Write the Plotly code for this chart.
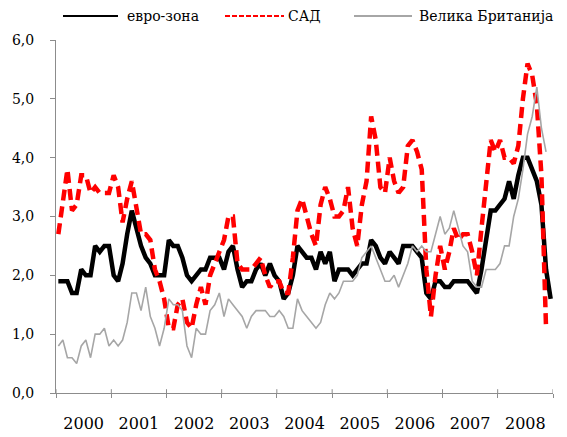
import pandas as pd
import plotly.graph_objects as go

# ---------------- data ----------------
years = [2000, 2001, 2002, 2003, 2004, 2005, 2006, 2007, 2008]

euro_area = [
    1.9, 1.9, 1.9, 1.7, 1.7, 2.1, 2.0, 2.0, 2.5, 2.4, 2.5, 2.5,   # 2000
    2.0, 1.9, 2.2, 2.7, 3.1, 2.8, 2.5, 2.3, 2.2, 2.0, 2.0, 2.0,   # 2001
    2.6, 2.5, 2.5, 2.3, 2.0, 1.9, 2.0, 2.1, 2.1, 2.3, 2.3, 2.3,   # 2002
    2.1, 2.4, 2.5, 2.1, 1.8, 1.9, 1.9, 2.1, 2.2, 2.0, 2.2, 2.0,   # 2003
    1.9, 1.6, 1.7, 2.0, 2.5, 2.4, 2.3, 2.3, 2.1, 2.4, 2.2, 2.4,   # 2004
    1.9, 2.1, 2.1, 2.1, 2.0, 2.1, 2.2, 2.2, 2.6, 2.5, 2.3, 2.2,   # 2005
    2.4, 2.3, 2.2, 2.5, 2.5, 2.5, 2.4, 2.3, 1.7, 1.6, 1.9, 1.9,   # 2006
    1.8, 1.8, 1.9, 1.9, 1.9, 1.9, 1.8, 1.7, 2.1, 2.6, 3.1, 3.1,   # 2007
    3.2, 3.3, 3.6, 3.3, 3.7, 4.0, 4.0, 3.8, 3.6, 3.2, 2.1, 1.6,   # 2008
]

usa = [
    2.7, 3.2, 3.8, 3.1, 3.2, 3.7, 3.7, 3.4, 3.5, 3.4, 3.4, 3.4,   # 2000
    3.7, 3.5, 2.9, 3.3, 3.6, 3.2, 2.7, 2.7, 2.6, 2.1, 1.9, 1.6,   # 2001
    1.1, 1.1, 1.5, 1.6, 1.2, 1.1, 1.5, 1.8, 1.5, 2.0, 2.2, 2.4,   # 2002
    2.6, 3.0, 3.0, 2.2, 2.1, 2.1, 2.1, 2.2, 2.3, 2.0, 1.8, 1.9,   # 2003
    1.9, 1.7, 1.7, 2.3, 3.1, 3.3, 3.0, 2.7, 2.5, 3.2, 3.5, 3.3,   # 2004
    3.0, 3.0, 3.1, 3.5, 2.8, 2.5, 3.2, 3.6, 4.7, 4.3, 3.5, 3.4,   # 2005
    4.0, 3.6, 3.4, 3.5, 4.2, 4.3, 4.1, 3.8, 2.1, 1.3, 2.0, 2.5,   # 2006
    2.1, 2.4, 2.8, 2.6, 2.7, 2.7, 2.4, 2.0, 2.8, 3.5, 4.3, 4.1,   # 2007
    4.3, 4.0, 4.0, 3.9, 4.2, 5.0, 5.6, 5.4, 4.9, 3.7, 1.1,        # 2008 (to Nov)
]

uk = [
    0.8, 0.9, 0.6, 0.6, 0.5, 0.8, 0.9, 0.6, 1.0, 1.0, 1.1, 0.8,   # 2000
    0.9, 0.8, 0.9, 1.2, 1.7, 1.7, 1.4, 1.8, 1.3, 1.1, 0.8, 1.1,   # 2001
    1.6, 1.5, 1.5, 1.4, 0.8, 0.6, 1.1, 1.0, 1.0, 1.4, 1.5, 1.7,   # 2002
    1.3, 1.6, 1.5, 1.4, 1.3, 1.1, 1.3, 1.4, 1.4, 1.4, 1.3, 1.3,   # 2003
    1.4, 1.3, 1.1, 1.1, 1.6, 1.4, 1.3, 1.2, 1.1, 1.2, 1.5, 1.7,   # 2004
    1.6, 1.7, 1.9, 1.9, 1.9, 2.0, 2.3, 2.4, 2.5, 2.3, 2.1, 1.9,   # 2005
    1.9, 2.0, 1.8, 2.0, 2.2, 2.5, 2.4, 2.5, 2.4, 2.4, 2.7, 3.0,   # 2006
    2.7, 2.8, 3.1, 2.8, 2.5, 2.4, 1.9, 1.8, 1.8, 2.1, 2.1, 2.1,   # 2007
    2.2, 2.5, 2.5, 3.0, 3.3, 3.8, 4.4, 4.7, 5.2, 4.5, 4.1,        # 2008 (to Nov)
]

names = ["евро-зона", "САД", "Велика Британија"]
y_ticks = [0, 1, 2, 3, 4, 5, 6]

# month mid-points
starts = pd.date_range(f"{years[0]}-01-01", periods=len(years) * 12 + 1, freq="MS")
months = [starts[i] + (starts[i + 1] - starts[i]) / 2 for i in range(len(starts) - 1)]

FONT = "DejaVu Serif"
AXIS_GREY = "#8c8c8c"

fig = go.Figure()
fig.add_trace(go.Scatter(x=months[:len(euro_area)], y=euro_area, mode="lines",
                         name=names[0], line=dict(color="black", width=4.5),
                         showlegend=False))
fig.add_trace(go.Scatter(x=months[:len(usa)], y=usa, mode="lines",
                         name=names[1], line=dict(color="#ff0000", width=4.5, dash="11px,6px"),
                         showlegend=False))
fig.add_trace(go.Scatter(x=months[:len(uk)], y=uk, mode="lines",
                         name=names[2], line=dict(color="#a6a6a6", width=1.6),
                         showlegend=False))

L, R, T, B = 56, 14, 40, 44
W, H = 567, 437
pw, ph = W - L - R, H - T - B


def px(xpix):
    return (xpix - L) / pw


def py(ypix):
    return (H - B - ypix) / ph


# manual legend
legend_items = [
    (names[0], 63, 118, 125, dict(color="black", width=2)),
    (names[1], 225, 284, 286, dict(color="#ff0000", width=2, dash="5px,2px")),
    (names[2], 354, 412, 417, dict(color="#a6a6a6", width=2)),
]
shapes = []
annotations = []
for name, x0, x1, tx, ln in legend_items:
    shapes.append(dict(type="line", xref="paper", yref="paper",
                       x0=px(x0), x1=px(x1), y0=py(16), y1=py(16), line=ln))
    annotations.append(dict(text=name, xref="paper", yref="paper", x=px(tx), y=py(16),
                            xanchor="left", yanchor="middle", showarrow=False,
                            font=dict(family=FONT, size=14, color="black")))

# upward half of the crossing year ticks
for yr in years + [years[-1] + 1]:
    shapes.append(dict(type="line", xref="x", yref="y",
                       x0=f"{yr}-01-01", x1=f"{yr}-01-01", y0=0, y1=0.065,
                       line=dict(color=AXIS_GREY, width=1)))

fig.update_layout(
    width=W, height=H,
    margin=dict(l=L, r=R, t=T, b=B, autoexpand=False),
    paper_bgcolor="white", plot_bgcolor="white",
    separators=",.",
    shapes=shapes, annotations=annotations,
    showlegend=False,
    font=dict(family=FONT, size=15, color="black"),
)
fig.update_xaxes(
    type="date", range=[f"{years[0]}-01-01", f"{years[-1] + 1}-01-01"],
    tick0=f"{years[0]}-01-01", dtick="M12", tickformat="%Y", ticklabelmode="period",
    ticks="outside", ticklen=4, tickcolor=AXIS_GREY, tickwidth=1,
    showline=True, linecolor=AXIS_GREY, linewidth=1,
    showgrid=False, zeroline=False, automargin=False,
    tickfont=dict(family=FONT, size=16, color="black"),
    ticklabelstandoff=12,
)
fig.update_yaxes(
    range=[0, 6], tickvals=y_ticks, tickformat=".1f",
    ticks="outside", ticklen=5, tickcolor=AXIS_GREY, tickwidth=1,
    showline=True, linecolor=AXIS_GREY, linewidth=1,
    showgrid=False, zeroline=False, automargin=False,
    tickfont=dict(family=FONT, size=14, color="black"),
    ticklabelstandoff=13,
)

fig.write_html(
    "out.html",
    config={"displayModeBar": False},
    post_script="document.body.style.margin='0';document.body.style.overflow='hidden';",
)
